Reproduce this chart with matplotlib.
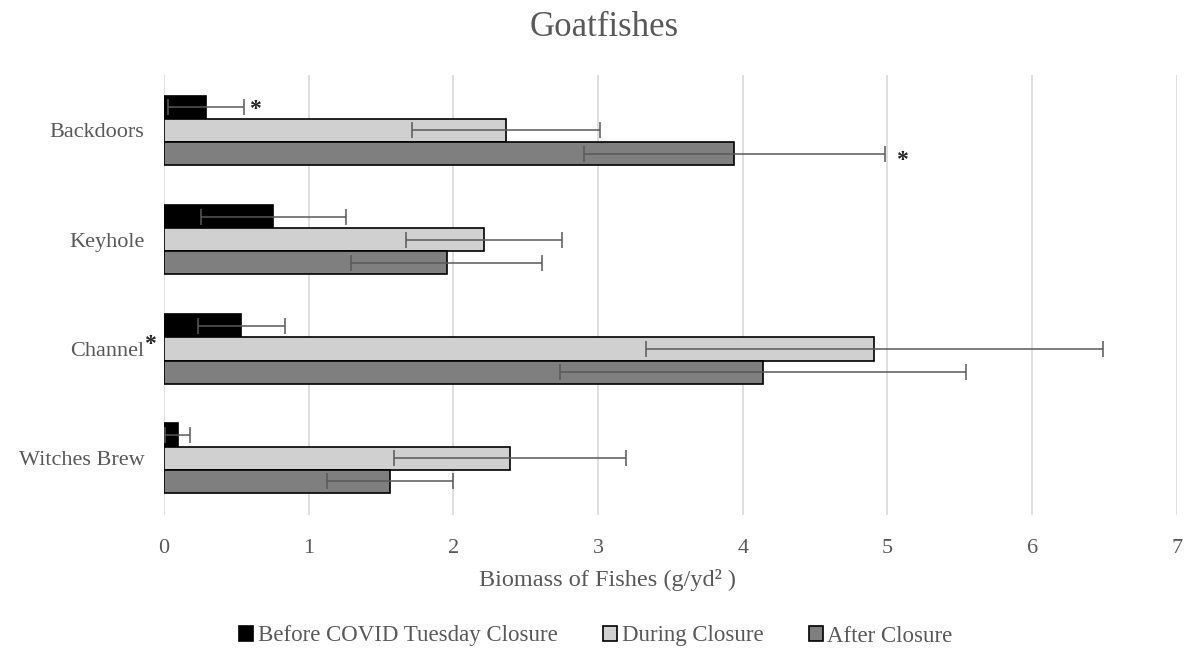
import matplotlib.pyplot as plt
import numpy as np
from matplotlib.patches import Patch

plt.rcParams["font.family"] = ["Liberation Serif", "DejaVu Serif"]

sites = ["Backdoors", "Keyhole", "Channel", "Witches Brew"]
series = ["Before COVID Tuesday Closure", "During Closure", "After Closure"]

before = [0.29, 0.755, 0.533, 0.095]
during = [2.365, 2.21, 4.91, 2.39]
after = [3.94, 1.955, 4.14, 1.565]

before_err = [0.26, 0.50, 0.30, 0.085]
during_err = [0.65, 0.54, 1.58, 0.80]
after_err = [1.04, 0.66, 1.40, 0.435]

colors = ["#000000", "#d0d0d0", "#7f7f7f"]
text_color = "#595959"

fig = plt.figure(figsize=(11.84, 6.56), dpi=100)
ax = fig.add_axes([0.1385, 0.215, 0.8555, 0.671])

y = np.arange(len(sites))
bar_h = 0.212
offsets = [-bar_h, 0, bar_h]
values = [before, during, after]
errors = [before_err, during_err, after_err]

for vals, errs, off, col in zip(values, errors, offsets, colors):
    ax.barh(y + off, vals, height=bar_h, color=col, edgecolor="#000000",
            linewidth=1.2, zorder=2)
    ax.errorbar(vals, y + off, xerr=errs, fmt="none", ecolor="#595959",
                elinewidth=1.1, capsize=6, capthick=1.1, zorder=3)

# significance markers
ax.text(before[0] + before_err[0] + 0.08, y[0] + offsets[0] + 0.02, "*",
        ha="center", va="center", fontsize=17, fontweight="bold", color="#222222")
ax.text(after[0] + after_err[0] + 0.12, y[0] + offsets[2] + 0.06, "*",
        ha="center", va="center", fontsize=17, fontweight="bold", color="#222222")
ax.text(-0.1, y[2] - 0.04, "*", ha="center", va="center", fontsize=17,
        fontweight="bold", color="#222222")

ax.set_xlim(0, 7)
ax.set_ylim(3.52, -0.51)
ax.set_xticks(range(0, 8))
ax.set_yticks(y)
ax.set_yticklabels(sites)
ax.tick_params(axis="both", length=0, labelsize=16, colors=text_color)
ax.tick_params(axis="x", pad=17)
ax.tick_params(axis="y", pad=14)
ax.grid(axis="x", color="#d9d9d9", linewidth=1.2, zorder=0)
ax.set_axisbelow(True)
for spine in ax.spines.values():
    spine.set_visible(False)

fig.text(607 / 1184, 1 - 580 / 656, "Biomass of Fishes (g/yd² )", fontsize=17.5,
         color=text_color, ha="center", va="center")
fig.text(604 / 1184, 1 - 28 / 656, "Goatfishes", fontsize=25, color=text_color,
         ha="center", va="center")

handles = [Patch(facecolor=c, edgecolor="#000000", linewidth=1.2) for c in colors]
fig.legend(handles, series, loc="center", bbox_to_anchor=(596 / 1184, 1 - 636 / 656),
           ncol=3, frameon=False, fontsize=16.5, handlelength=0.6, handleheight=0.6,
           handletextpad=0.2, columnspacing=2.0, labelcolor=text_color)

fig.savefig("out.png", dpi=100)
